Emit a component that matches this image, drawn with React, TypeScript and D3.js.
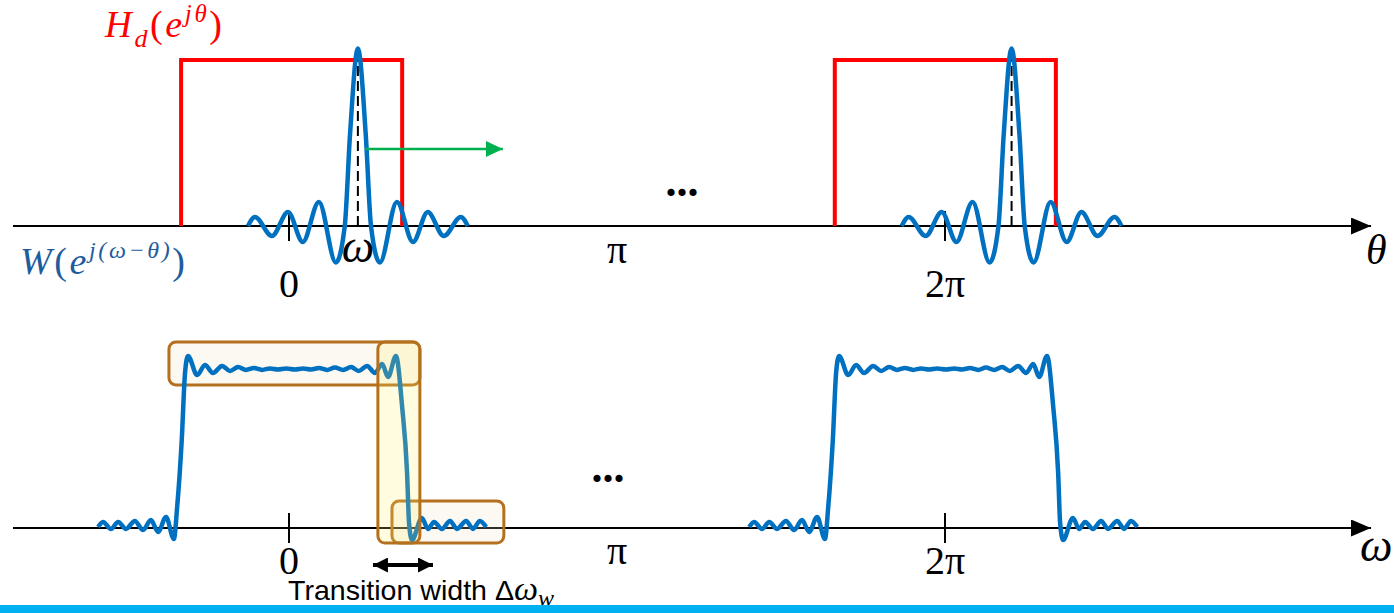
import React, { useEffect, useRef } from "react";
import * as d3 from "d3";

const WIDTH = 1394;
const HEIGHT = 613;

// frequency axis, in units of pi
const tickValues = [0, 1, 2];
const tickLabels = ["0", "\u03c0", "2\u03c0"];
const periodShiftTop = [0, 1.993];
const periodShiftBottom = [0, 1.985];

// ideal lowpass H_d(e^{j theta}) band edges
const hdBand = [-0.329, 0.345];
const hdLevel = 1;

// window kernel W(e^{j(omega - theta)}) sampled at its extrema, around omega
const omega = 0.21;
const kernelOffset = [-0.335, -0.314, -0.262, -0.213, -0.168, -0.119, -0.067, -0.040, -0.024, 0,
  0.024, 0.040, 0.067, 0.119, 0.168, 0.213, 0.262, 0.314, 0.335];
const kernelValue = [0, 0.054, -0.06, 0.084, -0.096, 0.145, -0.22, 0, 0.55, 1.07,
  0.55, 0, -0.22, 0.145, -0.096, 0.084, -0.06, 0.054, 0];

// resulting response H(e^{j omega})
const responseX = [-0.582, -0.567, -0.543, -0.521, -0.497, -0.470, -0.445, -0.421, -0.399, -0.375,
  -0.351, -0.341, -0.327, -0.317, -0.308, -0.280, -0.256, -0.232, -0.204, -0.180,
  -0.155, -0.131, -0.107, -0.082, -0.058, -0.034, -0.009, 0.018, 0.043, 0.067,
  0.091, 0.116, 0.140, 0.165, 0.189, 0.213, 0.238, 0.262, 0.284, 0.302,
  0.326, 0.345, 0.360, 0.366, 0.375, 0.405, 0.424, 0.442, 0.466, 0.491,
  0.512, 0.540, 0.561, 0.582, 0.601];
const responseY = [0.006, 0.038, -0.006, 0.038, -0.006, 0.044, -0.013, 0.050, -0.025, 0.069,
  -0.069, 0.131, 0.550, 0.969, 1.075, 0.956, 1.019, 0.969, 1.013, 0.981,
  1.006, 0.988, 1.000, 0.988, 0.997, 0.991, 0.997, 0.991, 0.997, 0.991,
  1.000, 0.988, 1.003, 0.988, 1.006, 0.981, 1.013, 0.969, 1.025, 0.944,
  1.075, 0.756, 0.344, 0.031, -0.075, 0.063, -0.006, 0.038, -0.006, 0.044,
  -0.006, 0.044, -0.006, 0.044, 0.006];

// highlight boxes on the response: [x0, x1, yTop, yBottom]
const passBox = [-0.366, 0.399, 1.163, 0.894];
const transitionBox = [0.271, 0.399, 1.163, -0.094];
const stopBox = [0.314, 0.655, 0.169, -0.094];
const transitionArrow = [0.256, 0.439];
const shiftArrow = [0.232, 0.652, 0.464];

const MATH = "'Liberation Serif', 'DejaVu Serif', serif";
const BLUE = "#0070c0";

type Part = { t: string; italic?: boolean; size?: number; dy?: number };

function mathText(g: any, x: number, y: number, parts: Part[], color: string, anchor = "start", len = 0) {
  const text = g.append("text")
    .attr("x", x)
    .attr("y", y)
    .attr("fill", color)
    .attr("font-family", MATH)
    .attr("text-anchor", anchor);
  if (len) {
    text.attr("textLength", len).attr("lengthAdjust", "spacing");
  }
  for (const p of parts) {
    text.append("tspan")
      .attr("font-style", p.italic ? "italic" : "normal")
      .attr("font-size", p.size || 38)
      .attr("dy", p.dy || 0)
      .text(p.t);
  }
  return text;
}

export default function App() {
  const ref = useRef<SVGSVGElement>(null);

  useEffect(() => {
    const svg = d3.select(ref.current);
    svg.selectAll("*").remove();

    const x = d3.scaleLinear().domain([0, 2]).range([289, 945]);
    const yTop = d3.scaleLinear().domain([0, 1]).range([226, 60]);
    const yBot = d3.scaleLinear().domain([0, 1]).range([528, 368]);

    const defs = svg.append("defs");
    const marker = (id: string, color: string, w: number, h: number) => {
      defs.append("marker")
        .attr("id", id)
        .attr("viewBox", `0 0 ${w} ${h}`)
        .attr("refX", w)
        .attr("refY", h / 2)
        .attr("markerWidth", w)
        .attr("markerHeight", h)
        .attr("markerUnits", "userSpaceOnUse")
        .attr("orient", "auto-start-reverse")
        .append("path")
        .attr("d", `M0,0L${w},${h / 2}L0,${h}Z`)
        .attr("fill", color);
    };
    marker("axisHead", "#000", 20, 17);
    marker("greenHead", "#00b050", 17, 16);
    marker("blackHead", "#000", 15, 15);

    // axes; label offsets below the axis line for [0, pi, 2pi]
    const drawAxis = (y0: number, ticks: number[], offsets: number[]) => {
      const g = svg.append("g");
      g.append("line")
        .attr("x1", 13).attr("x2", 1371)
        .attr("y1", y0).attr("y2", y0)
        .attr("stroke", "#000").attr("stroke-width", 2)
        .attr("marker-end", "url(#axisHead)");
      g.selectAll("line.tick")
        .data(ticks)
        .join("line")
        .attr("class", "tick")
        .attr("x1", d => x(d)).attr("x2", d => x(d))
        .attr("y1", y0 - 15).attr("y2", y0 + 15)
        .attr("stroke", "#000").attr("stroke-width", 2);
      g.selectAll("text.tl")
        .data(tickValues)
        .join("text")
        .attr("class", "tl")
        .attr("x", d => x(d))
        .attr("y", (d, i) => y0 + offsets[i])
        .attr("text-anchor", "middle")
        .attr("font-family", MATH)
        .attr("font-size", 40)
        .text((d, i) => tickLabels[i]);
      return g;
    };
    drawAxis(226, [0, 2], [71, 37, 71]);
    drawAxis(528, [0, 2], [46, 36, 46]);

    // top: ideal lowpass, periodic copies
    const top = svg.append("g");
    for (const s of periodShiftTop) {
      top.append("path")
        .attr("d", d3.line()([
          [x(hdBand[0] + s), yTop(0)],
          [x(hdBand[0] + s), yTop(hdLevel)],
          [x(hdBand[1] + s), yTop(hdLevel)],
          [x(hdBand[1] + s), yTop(0)],
        ]))
        .attr("fill", "none")
        .attr("stroke", "#ff0000")
        .attr("stroke-width", 4);
    }

    // window kernel centred at omega
    const kernelLine = d3.line<number>()
      .x(d => x(d))
      .y((d, i) => yTop(kernelValue[i]))
      .curve(d3.curveMonotoneX);
    for (const s of periodShiftTop) {
      top.append("line")
        .attr("x1", x(omega + s)).attr("x2", x(omega + s))
        .attr("y1", yTop(0)).attr("y2", yTop(1.03))
        .attr("stroke", "#000").attr("stroke-width", 2)
        .attr("stroke-dasharray", "10,5");
      top.append("path")
        .attr("d", kernelLine(kernelOffset.map(o => o + omega + s)))
        .attr("fill", "none")
        .attr("stroke", BLUE)
        .attr("stroke-width", 4.5)
        .attr("stroke-linejoin", "round");
    }

    // shift arrow
    top.append("line")
      .attr("x1", x(shiftArrow[0])).attr("x2", x(shiftArrow[1]))
      .attr("y1", yTop(shiftArrow[2])).attr("y2", yTop(shiftArrow[2]))
      .attr("stroke", "#00b050").attr("stroke-width", 2.5)
      .attr("marker-end", "url(#greenHead)");

    // bottom: response
    const bot = svg.append("g");
    const respLine = d3.line<number>()
      .x(d => x(d))
      .y((d, i) => yBot(responseY[i]))
      .curve(d3.curveMonotoneX);

    const box = (b: number[], fill: string, op: number) => {
      bot.append("rect")
        .attr("x", x(b[0]))
        .attr("y", yBot(b[2]))
        .attr("width", x(b[1]) - x(b[0]))
        .attr("height", yBot(b[3]) - yBot(b[2]))
        .attr("rx", 7)
        .attr("fill", fill)
        .attr("fill-opacity", op)
        .attr("stroke", "#b4701e")
        .attr("stroke-width", 3);
    };
    box(passBox, "#f0dcc0", 0.2);
    box(stopBox, "#f0dcc0", 0.2);

    for (const s of periodShiftBottom) {
      bot.append("path")
        .attr("d", respLine(responseX.map(v => v + s)))
        .attr("fill", "none")
        .attr("stroke", BLUE)
        .attr("stroke-width", 4.5)
        .attr("stroke-linejoin", "round");
    }
    box(transitionBox, "#fff060", 0.2);

    bot.append("line")
      .attr("x1", x(transitionArrow[0])).attr("x2", x(transitionArrow[1]))
      .attr("y1", 565).attr("y2", 565)
      .attr("stroke", "#000").attr("stroke-width", 4)
      .attr("marker-start", "url(#blackHead)")
      .attr("marker-end", "url(#blackHead)");

    // labels
    const lab = svg.append("g");
    mathText(lab, 105, 37, [
      { t: "H", italic: true, size: 37 },
      { t: "d", italic: true, size: 26, dy: 10 },
      { t: "(", size: 38, dy: -10 },
      { t: "e", italic: true, size: 38 },
      { t: "j\u03b8", italic: true, size: 25, dy: -15 },
      { t: ")", size: 38, dy: 15 },
    ], "#ff0000", "start", 117);
    mathText(lab, 20, 274, [
      { t: "W", italic: true, size: 38 },
      { t: "(", size: 38 },
      { t: "e", italic: true, size: 38 },
      { t: "j(\u03c9\u2212\u03b8)", italic: true, size: 24, dy: -16 },
      { t: ")", size: 38, dy: 16 },
    ], "#1f5c9e", "start", 165);
    mathText(lab, x(omega), 262, [{ t: "\u03c9", italic: true, size: 46 }], "#000", "middle");
    mathText(lab, 1366, 264, [{ t: "\u03b8", italic: true, size: 42 }], "#000");
    mathText(lab, 1360, 561, [{ t: "\u03c9", italic: true, size: 46 }], "#000");

    lab.append("text")
      .attr("x", 682).attr("y", 196)
      .attr("text-anchor", "middle")
      .attr("font-family", MATH).attr("font-size", 44).attr("font-weight", "bold")
      .text("...");
    lab.append("text")
      .attr("x", 608).attr("y", 482)
      .attr("text-anchor", "middle")
      .attr("font-family", MATH).attr("font-size", 44).attr("font-weight", "bold")
      .text("...");

    const tw = lab.append("text")
      .attr("x", 288).attr("y", 600)
      .attr("font-family", "'Liberation Sans', Arial, sans-serif")
      .attr("font-size", 28)
      .attr("fill", "#000");
    tw.append("tspan").attr("textLength", 226).attr("lengthAdjust", "spacingAndGlyphs").text("Transition width \u0394");
    tw.append("tspan").attr("font-family", MATH).attr("font-style", "italic").attr("font-size", 34).text("\u03c9");
    tw.append("tspan").attr("font-family", MATH).attr("font-style", "italic").attr("font-size", 24).attr("dy", 6).text("w");

    svg.append("rect")
      .attr("x", 0).attr("y", 605)
      .attr("width", WIDTH).attr("height", 8)
      .attr("fill", "#00b0f0");
  }, []);

  return (
    <svg
      ref={ref}
      width={WIDTH}
      height={HEIGHT}
      style={{ position: "absolute", left: 0, top: 0, background: "#fff" }}
    />
  );
}
